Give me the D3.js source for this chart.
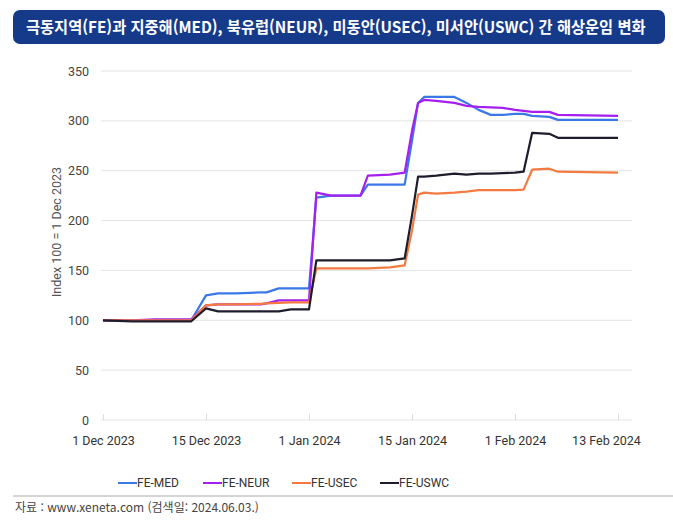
<!DOCTYPE html>
<html lang="ko">
<head>
  <meta charset="UTF-8">
  <title>극동지역 해상운임 변화</title>
  <script src="https://d3js.org/d3.v7.min.js"></script>
  <style>
    body { margin: 0; background: #fff; }
    text { font-family: Roboto, "Noto Sans", sans-serif; }
    .kr { font-family: "Noto Sans CJK KR", "Noto Sans", sans-serif; }
  </style>
</head>
<body>
  <div id="chart"></div>
  <script>
    // data (index, 1 Dec 2023 = 100)
    const dates = ["2023-12-01", "2023-12-05", "2023-12-08", "2023-12-13", "2023-12-15", "2023-12-17",
      "2023-12-20", "2023-12-24", "2023-12-25", "2023-12-27", "2023-12-29", "2024-01-01", "2024-01-02",
      "2024-01-04", "2024-01-08", "2024-01-09", "2024-01-12", "2024-01-13", "2024-01-14", "2024-01-15",
      "2024-01-16", "2024-01-17", "2024-01-19", "2024-01-22", "2024-01-24", "2024-01-26", "2024-01-28",
      "2024-01-30", "2024-02-01", "2024-02-02", "2024-02-03", "2024-02-05", "2024-02-06", "2024-02-13"];

    const feMed = [100, 100, 100, 100, 125, 127, 127, 128, 128, 132, 132, 132, 223,
      225, 225, 236, 236, 236, 236, 280, 318, 324, 324, 324, 318, 311, 306,
      306, 307, 307, 305, 304, 301, 301];
    const feNeur = [100, 100, 101, 101, 115, 116, 116, 116, 117, 120, 120, 120, 228,
      225, 225, 245, 246, 247, 248, 290, 318, 321, 320, 318, 315, 314, 313.5,
      313, 311, 310, 309, 309, 306, 305];
    const feUsec = [100, 100, 100, 100, 115, 116, 116, 116.5, 117, 117.5, 118, 118, 152,
      152, 152, 152, 153, 154, 155, 190, 226, 228, 227, 228, 229, 230.5, 230.5,
      230.5, 230.5, 231, 251, 252, 249, 248];
    const feUswc = [100, 99, 99, 99, 112, 109, 109, 109, 109, 109, 111, 111, 160,
      160, 160, 160, 160, 161, 162, 205, 244, 244, 245, 247, 246, 247, 247,
      247.5, 248, 249, 288, 287, 283, 283];

    const seriesNames = ["FE-MED", "FE-NEUR", "FE-USEC", "FE-USWC"];
    const tickDates = ["2023-12-01", "2023-12-15", "2024-01-01", "2024-01-15", "2024-02-01", "2024-02-13"];
    const tickLabels = ["1 Dec 2023", "15 Dec 2023", "1 Jan 2024", "15 Jan 2024", "1 Feb 2024", "13 Feb 2024"];
    const yTicks = [0, 50, 100, 150, 200, 250, 300, 350];

    const colors = ["#3b78e7", "#a51ff0", "#f47a42", "#1d1d2e"];
    const parse = d3.timeParse("%Y-%m-%d");

    const width = 673, height = 527;
    const svg = d3.select("#chart").append("svg")
      .attr("width", width)
      .attr("height", height);

    // title box
    svg.append("rect")
      .attr("x", 13).attr("y", 10)
      .attr("width", 652).attr("height", 34)
      .attr("rx", 7)
      .attr("fill", "#163a8a");
    const title = svg.append("text")
      .attr("class", "kr")
      .attr("x", 0).attr("y", 0)
      .attr("fill", "#fff")
      .attr("font-size", 16)
      .attr("font-weight", "bold")
      .text("극동지역(FE)과 지중해(MED), 북유럽(NEUR), 미동안(USEC), 미서안(USWC) 간 해상운임 변화");
    // squeeze the title horizontally to fit the box, like the condensed original
    const titleW = title.node().getComputedTextLength();
    title.attr("transform", `translate(26,33) scale(${620 / titleW},1)`);

    // scales: ticks are evenly spaced along the axis
    const x0 = 103, step = 103;
    const x = d3.scaleTime()
      .domain(tickDates.map(parse))
      .range(tickDates.map((d, i) => x0 + i * step));
    const y = d3.scaleLinear().domain([0, 350]).range([420, 71]);

    // gridlines
    svg.append("g")
      .selectAll("line")
      .data(yTicks)
      .enter().append("line")
      .attr("x1", 101).attr("x2", 632)
      .attr("y1", d => y(d)).attr("y2", d => y(d))
      .attr("stroke", "#e4e4e4")
      .attr("stroke-width", 1);

    // y axis labels
    const yAxis = svg.append("g")
      .attr("transform", "translate(89,0)")
      .call(d3.axisLeft(y).tickValues(yTicks).tickSize(0).tickPadding(0));
    yAxis.select(".domain").remove();
    yAxis.selectAll("text").attr("font-size", 12.5).attr("fill", "#444")
      .style("font-family", "Roboto, sans-serif");

    // x axis
    const xAxis = svg.append("g")
      .attr("transform", "translate(0,420)")
      .call(d3.axisBottom(x)
        .tickValues(tickDates.map(parse))
        .tickFormat((d, i) => tickLabels[i])
        .tickSize(-6)
        .tickPadding(16));
    xAxis.select(".domain").remove();
    xAxis.selectAll("line").attr("stroke", "#dcdcdc");
    xAxis.selectAll("text").attr("font-size", 12.5).attr("fill", "#333")
      .style("font-family", "Roboto, sans-serif")
      .attr("dx", (d, i) => i === tickLabels.length - 1 ? -12 : 0);

    // y axis title
    svg.append("text")
      .attr("transform", "translate(61,232) rotate(-90)")
      .attr("text-anchor", "middle")
      .attr("font-size", 12.5)
      .attr("fill", "#555")
      .text("Index 100 = 1 Dec 2023");

    // lines
    const allSeries = [feMed, feNeur, feUsec, feUswc].map((vals, k) => ({
      name: seriesNames[k],
      color: colors[k],
      values: vals.map((v, i) => ({ date: parse(dates[i]), value: v }))
    }));

    const line = d3.line()
      .x(d => x(d.date))
      .y(d => y(d.value));

    svg.append("g")
      .selectAll("path")
      .data(allSeries)
      .enter().append("path")
      .attr("d", d => line(d.values))
      .attr("fill", "none")
      .attr("stroke", d => d.color)
      .attr("stroke-width", 2.2)
      .attr("stroke-linejoin", "round");

    // legend
    const legendX = [118, 203, 292, 380];
    const legend = svg.append("g")
      .selectAll("g")
      .data(allSeries)
      .enter().append("g")
      .attr("transform", (d, i) => `translate(${legendX[i]},483)`);
    legend.append("line")
      .attr("x1", 0).attr("x2", 19)
      .attr("stroke", d => d.color)
      .attr("stroke-width", 2);
    legend.append("text")
      .attr("x", 19).attr("y", 4)
      .attr("font-size", 12)
      .attr("fill", "#333")
      .text(d => d.name);

    // separator and source
    svg.append("line")
      .attr("x1", 13).attr("x2", 673)
      .attr("y1", 496).attr("y2", 496)
      .attr("stroke", "#aaa")
      .attr("stroke-width", 1);
    svg.append("text")
      .attr("class", "kr")
      .attr("x", 15).attr("y", 512)
      .attr("font-size", 12)
      .attr("fill", "#444")
      .text("자료 : www.xeneta.com (검색일: 2024.06.03.)");
  </script>
</body>
</html>
